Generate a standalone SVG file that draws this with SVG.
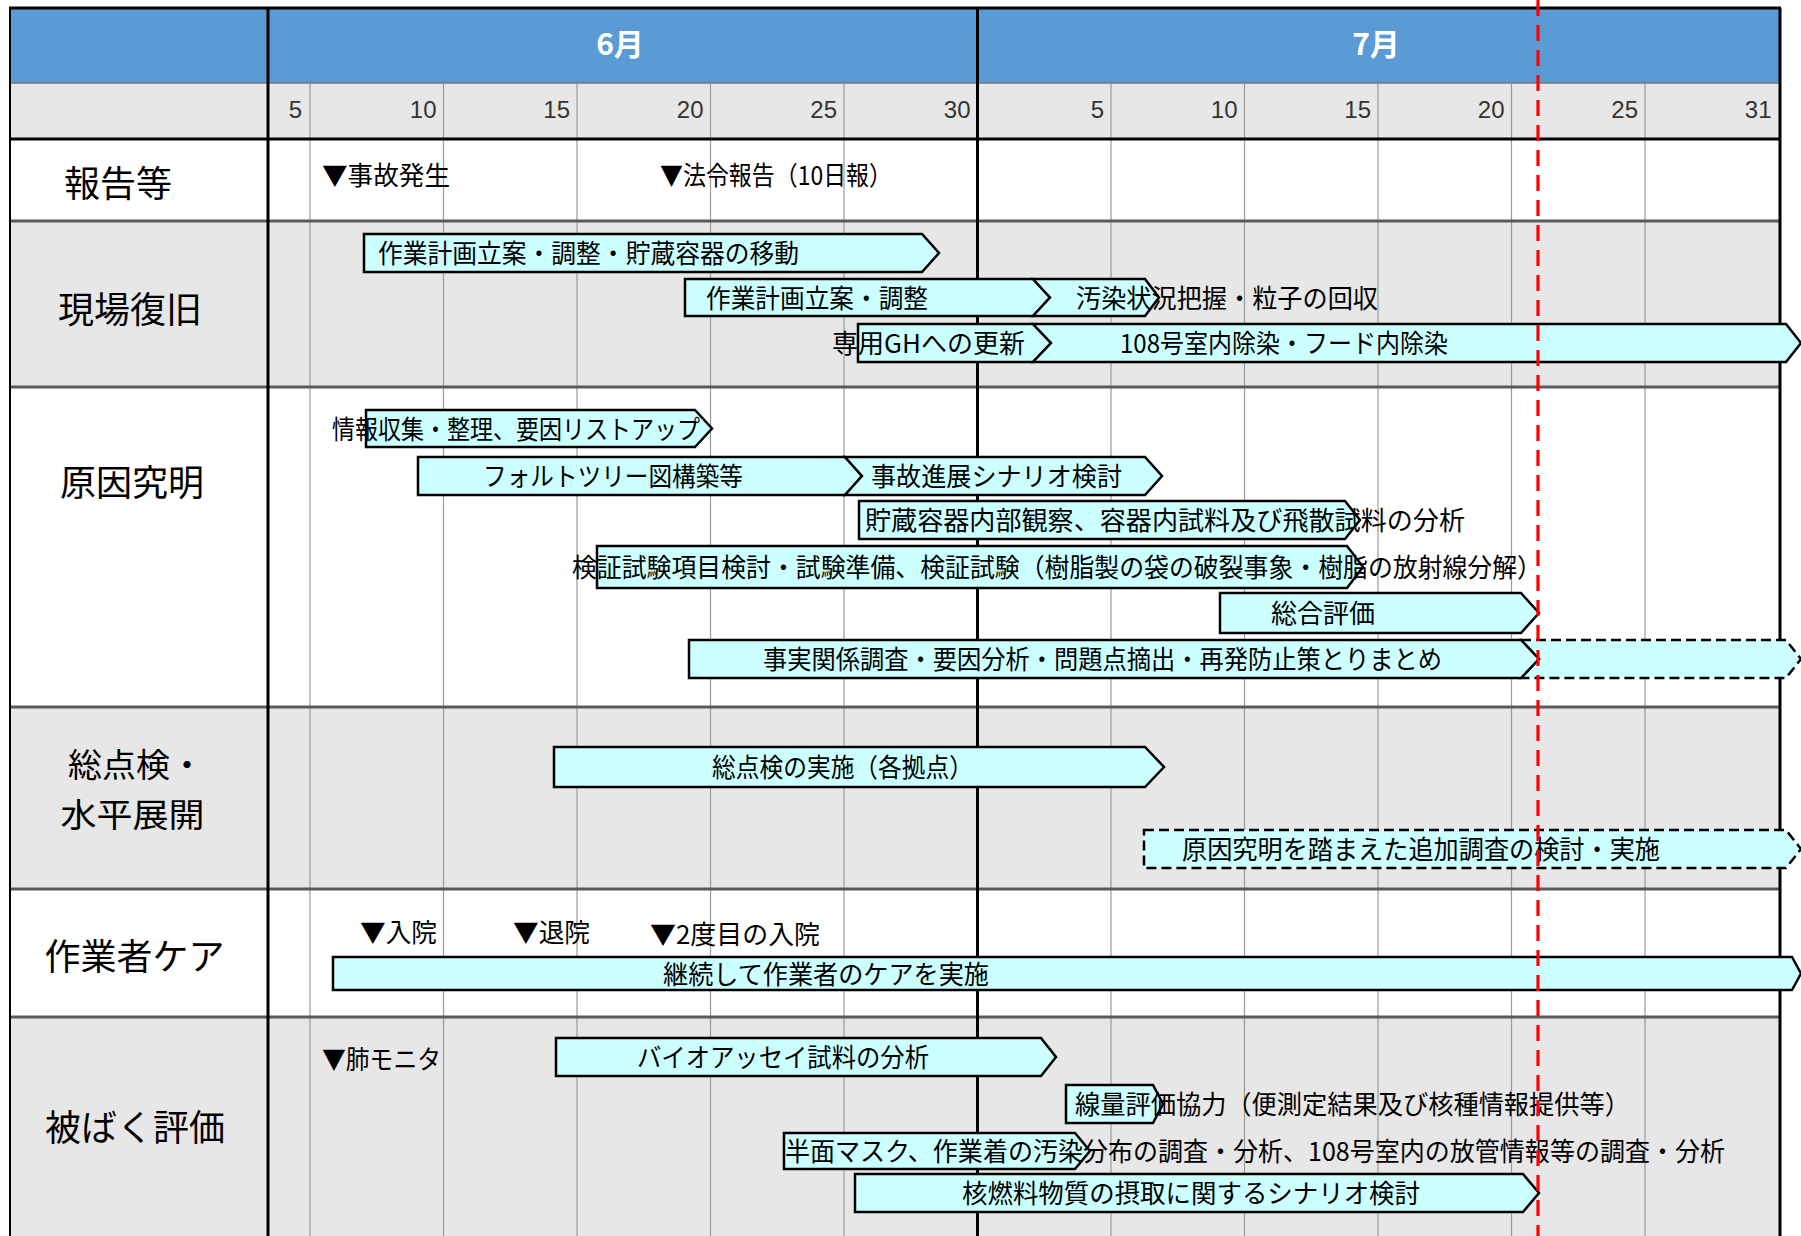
<svg xmlns="http://www.w3.org/2000/svg" width="1801" height="1236" viewBox="0 0 1801 1236">
<style>
.w{fill:#ffffff}
.g{fill:#e7e7e7}
.grid{stroke:#9a9a9a;stroke-width:1.2}
.sep{stroke:#5a5a5a;stroke-width:3}
.blk{stroke:#000;stroke-width:3}
.bar{fill:#ccffff;stroke:#000;stroke-width:2.5;stroke-linejoin:miter}
.bard{fill:#ccffff;stroke:#000;stroke-width:2.5;stroke-dasharray:10 5}
.t{font-family:"Noto Sans CJK JP","Noto Sans CJK SC",sans-serif;font-size:26px;fill:#000}
.lbl{font-family:"Noto Sans CJK JP","Noto Sans CJK SC",sans-serif;font-size:36px;fill:#000;text-anchor:middle}
.lbl2{font-family:"Noto Sans CJK JP","Noto Sans CJK SC",sans-serif;font-size:33px;fill:#000}
.day{font-family:"Liberation Sans",Arial,sans-serif;font-size:24px;fill:#333;text-anchor:end}
.mon{font-family:"Noto Sans CJK JP","Noto Sans CJK SC",sans-serif;font-size:30px;font-weight:bold;fill:#fff;text-anchor:middle}
</style>

<!-- background rows -->
<g id="table">
<rect x="10" y="8" width="1770" height="75" fill="#5b9bd5"/>
<rect x="10" y="83" width="1770" height="56" class="g"/>
<rect x="10" y="139" width="1770" height="82" class="w"/>
<rect x="10" y="221" width="1770" height="166" class="g"/>
<rect x="10" y="387" width="1770" height="320" class="w"/>
<rect x="10" y="707" width="1770" height="182" class="g"/>
<rect x="10" y="889" width="1770" height="128" class="w"/>
<rect x="10" y="1017" width="1770" height="219" class="g"/>

<!-- day grid -->
<g class="grid">
<line x1="310" y1="83" x2="310" y2="1236"/>
<line x1="443.5" y1="83" x2="443.5" y2="1236"/>
<line x1="577" y1="83" x2="577" y2="1236"/>
<line x1="710.5" y1="83" x2="710.5" y2="1236"/>
<line x1="844" y1="83" x2="844" y2="1236"/>
<line x1="1111" y1="83" x2="1111" y2="1236"/>
<line x1="1244.5" y1="83" x2="1244.5" y2="1236"/>
<line x1="1378" y1="83" x2="1378" y2="1236"/>
<line x1="1511.5" y1="83" x2="1511.5" y2="1236"/>
<line x1="1645" y1="83" x2="1645" y2="1236"/>
</g>
<line x1="10" y1="83" x2="1780" y2="83" stroke="#777" stroke-width="1.5"/>
<g class="sep">
<line x1="10" y1="221" x2="1780" y2="221"/>
<line x1="10" y1="387" x2="1780" y2="387"/>
<line x1="10" y1="707" x2="1780" y2="707"/>
<line x1="10" y1="889" x2="1780" y2="889"/>
<line x1="10" y1="1017" x2="1780" y2="1017"/>
</g>
<g class="blk">
<line x1="9" y1="8" x2="1781" y2="8"/>
<line x1="10" y1="139" x2="1780" y2="139"/>
<line x1="268" y1="8" x2="268" y2="1236"/>
<line x1="977.5" y1="8" x2="977.5" y2="1236"/>
<line x1="1780" y1="8" x2="1780" y2="1236"/>
</g>
<line x1="10" y1="8" x2="10" y2="1236" stroke="#000" stroke-width="2"/>

<text class="mon" x="620" y="55">6月</text>
<text class="mon" x="1376" y="55">7月</text>

<text class="day" x="302" y="118">5</text>
<text class="day" x="436.5" y="118">10</text>
<text class="day" x="570" y="118">15</text>
<text class="day" x="703.5" y="118">20</text>
<text class="day" x="837" y="118">25</text>
<text class="day" x="970.5" y="118">30</text>
<text class="day" x="1104" y="118">5</text>
<text class="day" x="1237.5" y="118">10</text>
<text class="day" x="1371" y="118">15</text>
<text class="day" x="1504.5" y="118">20</text>
<text class="day" x="1638" y="118">25</text>
<text class="day" x="1771.5" y="118">31</text>
</g>

<!-- row labels -->
<g id="row-report"><text class="lbl" x="118" y="197">報告等</text></g>
<g id="row-recovery"><text class="lbl" x="130" y="323">現場復旧</text></g>
<g id="row-cause"><text class="lbl" x="132" y="496">原因究明</text></g>
<g id="row-inspection"><text class="lbl2" x="68" y="777" textLength="136" lengthAdjust="spacingAndGlyphs">総点検・</text><text class="lbl2" x="60.5" y="826.5" textLength="144" lengthAdjust="spacingAndGlyphs">水平展開</text></g>
<g id="row-care"><text class="lbl" x="134.5" y="970">作業者ケア</text></g>
<g id="row-exposure"><text class="lbl" x="135" y="1141">被ばく評価</text></g>

<!-- 報告等 -->
<g id="m-accident"><text class="t" x="322" y="185" textLength="128" lengthAdjust="spacingAndGlyphs">▼事故発生</text></g>
<g id="m-legal"><text class="t" x="660" y="185" textLength="232" lengthAdjust="spacingAndGlyphs">▼法令報告（10日報）</text></g>

<!-- 現場復旧 -->
<g id="bar-a"><polygon class="bar" points="364,234 922,234 939,253 922,272 364,272"/><text class="t" x="378" y="263" textLength="421" lengthAdjust="spacingAndGlyphs">作業計画立案・調整・貯蔵容器の移動</text></g>
<g id="bar-b"><polygon class="bar" points="685,279 1033,279 1050,297.5 1033,316 685,316"/><text class="t" x="706" y="307.5" textLength="222" lengthAdjust="spacingAndGlyphs">作業計画立案・調整</text></g>
<g id="bar-c"><polygon class="bar" points="1033,279 1145,279 1159,297.5 1145,316 1033,316 1050,297.5"/><text class="t" x="1076" y="307.5" textLength="302" lengthAdjust="spacingAndGlyphs">汚染状況把握・粒子の回収</text></g>
<g id="bar-d"><polygon class="bar" points="858,324 1033,324 1051,343 1033,362 858,362"/><text class="t" x="832" y="353" textLength="193" lengthAdjust="spacingAndGlyphs">専用GHへの更新</text></g>
<g id="bar-e"><polygon class="bar" points="1033,324 1786,324 1801,343 1786,362 1033,362 1051,343"/><text class="t" x="1120" y="353" textLength="328" lengthAdjust="spacingAndGlyphs">108号室内除染・フード内除染</text></g>

<!-- 原因究明 -->
<g id="bar-f"><polygon class="bar" points="366,410 695,410 712,428.5 695,447 366,447"/><text class="t" x="332" y="438.5" textLength="368" lengthAdjust="spacingAndGlyphs">情報収集・整理、要因リストアップ</text></g>
<g id="bar-g"><polygon class="bar" points="418,457 845,457 862,476 845,495 418,495"/><text class="t" x="483" y="486" textLength="260" lengthAdjust="spacingAndGlyphs">フォルトツリー図構築等</text></g>
<g id="bar-h"><polygon class="bar" points="845,457 1145,457 1162,476 1145,495 845,495 862,476"/><text class="t" x="871" y="486" textLength="251" lengthAdjust="spacingAndGlyphs">事故進展シナリオ検討</text></g>
<g id="bar-i"><polygon class="bar" points="859,501 1345,501 1360,520 1345,539 859,539"/><text class="t" x="865" y="530" textLength="600" lengthAdjust="spacingAndGlyphs">貯蔵容器内部観察、容器内試料及び飛散試料の分析</text></g>
<g id="bar-j"><polygon class="bar" points="597,546 1347,546 1363,567 1347,588 597,588"/><text class="t" x="572" y="577" textLength="970" lengthAdjust="spacingAndGlyphs">検証試験項目検討・試験準備、検証試験（樹脂製の袋の破裂事象・樹脂の放射線分解）</text></g>
<g id="bar-k"><polygon class="bar" points="1220,593 1521,593 1539,613 1521,633 1220,633"/><text class="t" x="1271" y="623" textLength="104" lengthAdjust="spacingAndGlyphs">総合評価</text></g>
<g id="bar-l"><polygon class="bard" points="1521,640 1786,640 1801,659 1786,678 1521,678 1539,659"/><polygon class="bar" points="689,640 1521,640 1539,659 1521,678 689,678"/><text class="t" x="763" y="669" textLength="679" lengthAdjust="spacingAndGlyphs">事実関係調査・要因分析・問題点摘出・再発防止策とりまとめ</text></g>

<!-- 総点検・水平展開 -->
<g id="bar-m"><polygon class="bar" points="554,747 1145,747 1164,767 1145,787 554,787"/><text class="t" x="712" y="777" textLength="261" lengthAdjust="spacingAndGlyphs">総点検の実施（各拠点）</text></g>
<g id="bar-n"><polygon class="bard" points="1144,830 1786,830 1801,849 1786,868 1144,868"/><text class="t" x="1182" y="859" textLength="478" lengthAdjust="spacingAndGlyphs">原因究明を踏まえた追加調査の検討・実施</text></g>

<!-- 作業者ケア -->
<g id="m-in1"><text class="t" x="360" y="942" textLength="77" lengthAdjust="spacingAndGlyphs">▼入院</text></g>
<g id="m-out"><text class="t" x="513" y="942" textLength="77" lengthAdjust="spacingAndGlyphs">▼退院</text></g>
<g id="m-in2"><text class="t" x="650" y="944" textLength="170" lengthAdjust="spacingAndGlyphs">▼2度目の入院</text></g>
<g id="bar-o"><polygon class="bar" points="333,957 1792,957 1801,973.5 1792,990 333,990"/><text class="t" x="663" y="983.5" textLength="326" lengthAdjust="spacingAndGlyphs">継続して作業者のケアを実施</text></g>

<!-- 被ばく評価 -->
<g id="m-lung"><text class="t" x="322" y="1069" textLength="119" lengthAdjust="spacingAndGlyphs">▼肺モニタ</text></g>
<g id="bar-p"><polygon class="bar" points="556,1038 1041,1038 1056,1057 1041,1076 556,1076"/><text class="t" x="637" y="1067" textLength="292" lengthAdjust="spacingAndGlyphs">バイオアッセイ試料の分析</text></g>
<g id="bar-q"><polygon class="bar" points="1066,1085 1153,1085 1163,1104 1153,1123 1066,1123"/><text class="t" x="1075" y="1114" textLength="555" lengthAdjust="spacingAndGlyphs">線量評価協力（便測定結果及び核種情報提供等）</text></g>
<g id="bar-r"><polygon class="bar" points="784,1133 1075,1133 1090,1151 1075,1169 784,1169"/><text class="t" x="785" y="1161" textLength="940" lengthAdjust="spacingAndGlyphs">半面マスク、作業着の汚染分布の調査・分析、108号室内の放管情報等の調査・分析</text></g>
<g id="bar-s"><polygon class="bar" points="855,1174 1523,1174 1539,1193 1523,1212 855,1212"/><text class="t" x="962" y="1203" textLength="458" lengthAdjust="spacingAndGlyphs">核燃料物質の摂取に関するシナリオ検討</text></g>

<!-- today marker -->
<g id="connectors">
<line x1="1538" y1="0" x2="1538" y2="1236" stroke="#ff0000" stroke-width="3.2" stroke-dasharray="16 9"/>
</g>
</svg>
